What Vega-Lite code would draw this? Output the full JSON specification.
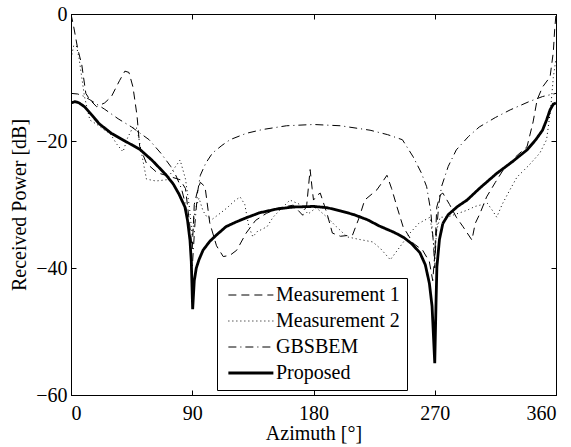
{
  "$schema": "https://vega.github.io/schema/vega-lite/v6.json",
  "width": 485,
  "height": 381,
  "autosize": "none",
  "padding": {"left": 71, "top": 14, "right": 15, "bottom": 52},
  "background": "white",
  "config": {
    "font": "Liberation Serif",
    "view": {"stroke": "black", "strokeWidth": 1},
    "axis": {
      "grid": false,
      "domainColor": "black",
      "tickColor": "black",
      "labelColor": "black",
      "titleColor": "black",
      "labelFont": "Liberation Serif",
      "titleFont": "Liberation Serif",
      "labelFontSize": 20,
      "titleFontSize": 20,
      "titleFontWeight": "normal",
      "tickSize": -5
    }
  },
  "datasets": {
    "curves": [
      {"series": "Measurement 1", "az": 0, "db": 0},
      {"series": "Measurement 1", "az": 2, "db": -2},
      {"series": "Measurement 1", "az": 5, "db": -5.5},
      {"series": "Measurement 1", "az": 8, "db": -8},
      {"series": "Measurement 1", "az": 11, "db": -12.5},
      {"series": "Measurement 1", "az": 14, "db": -13.5},
      {"series": "Measurement 1", "az": 19, "db": -14.6},
      {"series": "Measurement 1", "az": 25, "db": -14},
      {"series": "Measurement 1", "az": 30, "db": -13},
      {"series": "Measurement 1", "az": 36, "db": -10.5},
      {"series": "Measurement 1", "az": 40, "db": -9},
      {"series": "Measurement 1", "az": 43, "db": -9.2},
      {"series": "Measurement 1", "az": 46, "db": -11.5},
      {"series": "Measurement 1", "az": 49, "db": -16},
      {"series": "Measurement 1", "az": 51, "db": -20.9},
      {"series": "Measurement 1", "az": 56, "db": -23.5},
      {"series": "Measurement 1", "az": 64, "db": -25},
      {"series": "Measurement 1", "az": 72, "db": -25.5},
      {"series": "Measurement 1", "az": 81, "db": -26.1},
      {"series": "Measurement 1", "az": 85, "db": -27.5},
      {"series": "Measurement 1", "az": 88, "db": -33},
      {"series": "Measurement 1", "az": 90, "db": -37},
      {"series": "Measurement 1", "az": 91.5, "db": -30},
      {"series": "Measurement 1", "az": 93.5, "db": -28.2},
      {"series": "Measurement 1", "az": 96, "db": -26.5},
      {"series": "Measurement 1", "az": 99.5, "db": -27.2},
      {"series": "Measurement 1", "az": 103, "db": -32.9},
      {"series": "Measurement 1", "az": 108, "db": -36.5},
      {"series": "Measurement 1", "az": 113, "db": -38.2},
      {"series": "Measurement 1", "az": 118, "db": -38},
      {"series": "Measurement 1", "az": 123, "db": -37.2},
      {"series": "Measurement 1", "az": 130, "db": -34.5},
      {"series": "Measurement 1", "az": 137, "db": -32.5},
      {"series": "Measurement 1", "az": 145, "db": -31.4},
      {"series": "Measurement 1", "az": 155, "db": -30.5},
      {"series": "Measurement 1", "az": 165, "db": -30.1},
      {"series": "Measurement 1", "az": 172, "db": -31.7},
      {"series": "Measurement 1", "az": 175, "db": -30},
      {"series": "Measurement 1", "az": 177.5, "db": -24.5},
      {"series": "Measurement 1", "az": 179, "db": -27.5},
      {"series": "Measurement 1", "az": 180, "db": -29.3},
      {"series": "Measurement 1", "az": 183, "db": -28.5},
      {"series": "Measurement 1", "az": 185, "db": -28.2},
      {"series": "Measurement 1", "az": 190, "db": -31.4},
      {"series": "Measurement 1", "az": 194, "db": -34.5},
      {"series": "Measurement 1", "az": 200, "db": -35},
      {"series": "Measurement 1", "az": 209, "db": -34.8},
      {"series": "Measurement 1", "az": 214, "db": -32},
      {"series": "Measurement 1", "az": 218, "db": -29.3},
      {"series": "Measurement 1", "az": 227, "db": -27.7},
      {"series": "Measurement 1", "az": 231, "db": -26.5},
      {"series": "Measurement 1", "az": 234.5, "db": -25.4},
      {"series": "Measurement 1", "az": 238, "db": -27.5},
      {"series": "Measurement 1", "az": 242, "db": -30.4},
      {"series": "Measurement 1", "az": 246.5, "db": -33.5},
      {"series": "Measurement 1", "az": 254, "db": -36.1},
      {"series": "Measurement 1", "az": 261, "db": -37.2},
      {"series": "Measurement 1", "az": 266, "db": -39},
      {"series": "Measurement 1", "az": 268.5, "db": -42},
      {"series": "Measurement 1", "az": 270, "db": -38},
      {"series": "Measurement 1", "az": 271.5, "db": -30.4},
      {"series": "Measurement 1", "az": 274, "db": -28.5},
      {"series": "Measurement 1", "az": 276, "db": -28.2},
      {"series": "Measurement 1", "az": 281, "db": -30},
      {"series": "Measurement 1", "az": 286, "db": -32},
      {"series": "Measurement 1", "az": 291, "db": -33.5},
      {"series": "Measurement 1", "az": 297.6, "db": -35.6},
      {"series": "Measurement 1", "az": 300, "db": -33},
      {"series": "Measurement 1", "az": 303.6, "db": -31.4},
      {"series": "Measurement 1", "az": 308.5, "db": -28.8},
      {"series": "Measurement 1", "az": 315, "db": -26.5},
      {"series": "Measurement 1", "az": 320.7, "db": -24.6},
      {"series": "Measurement 1", "az": 330, "db": -22.5},
      {"series": "Measurement 1", "az": 338.5, "db": -20.9},
      {"series": "Measurement 1", "az": 343, "db": -17},
      {"series": "Measurement 1", "az": 346, "db": -13.5},
      {"series": "Measurement 1", "az": 350, "db": -11.5},
      {"series": "Measurement 1", "az": 355.6, "db": -9.9},
      {"series": "Measurement 1", "az": 358, "db": -6},
      {"series": "Measurement 1", "az": 359, "db": -2.5},
      {"series": "Measurement 1", "az": 360, "db": 0},

      {"series": "Measurement 2", "az": 0, "db": -7},
      {"series": "Measurement 2", "az": 2, "db": -5},
      {"series": "Measurement 2", "az": 4, "db": -5},
      {"series": "Measurement 2", "az": 6, "db": -7},
      {"series": "Measurement 2", "az": 8, "db": -10},
      {"series": "Measurement 2", "az": 10, "db": -13},
      {"series": "Measurement 2", "az": 14, "db": -16.7},
      {"series": "Measurement 2", "az": 20, "db": -17.5},
      {"series": "Measurement 2", "az": 25, "db": -18.3},
      {"series": "Measurement 2", "az": 29, "db": -18.8},
      {"series": "Measurement 2", "az": 34, "db": -20.5},
      {"series": "Measurement 2", "az": 38.6, "db": -21.7},
      {"series": "Measurement 2", "az": 42, "db": -19.5},
      {"series": "Measurement 2", "az": 46, "db": -17.8},
      {"series": "Measurement 2", "az": 49, "db": -18},
      {"series": "Measurement 2", "az": 52, "db": -21.5},
      {"series": "Measurement 2", "az": 56, "db": -26},
      {"series": "Measurement 2", "az": 63, "db": -26.3},
      {"series": "Measurement 2", "az": 71, "db": -26.1},
      {"series": "Measurement 2", "az": 76, "db": -24.5},
      {"series": "Measurement 2", "az": 81, "db": -23},
      {"series": "Measurement 2", "az": 85, "db": -26},
      {"series": "Measurement 2", "az": 88, "db": -30.6},
      {"series": "Measurement 2", "az": 90, "db": -35},
      {"series": "Measurement 2", "az": 92, "db": -31},
      {"series": "Measurement 2", "az": 95, "db": -29},
      {"series": "Measurement 2", "az": 98, "db": -31},
      {"series": "Measurement 2", "az": 101, "db": -32},
      {"series": "Measurement 2", "az": 105, "db": -32.3},
      {"series": "Measurement 2", "az": 110.6, "db": -31.4},
      {"series": "Measurement 2", "az": 116, "db": -30.5},
      {"series": "Measurement 2", "az": 121, "db": -29.5},
      {"series": "Measurement 2", "az": 125.5, "db": -28.8},
      {"series": "Measurement 2", "az": 129, "db": -30},
      {"series": "Measurement 2", "az": 132, "db": -33.5},
      {"series": "Measurement 2", "az": 135, "db": -35.1},
      {"series": "Measurement 2", "az": 138, "db": -34.3},
      {"series": "Measurement 2", "az": 145.5, "db": -33.5},
      {"series": "Measurement 2", "az": 150, "db": -32},
      {"series": "Measurement 2", "az": 155, "db": -30.9},
      {"series": "Measurement 2", "az": 162.5, "db": -29.3},
      {"series": "Measurement 2", "az": 170, "db": -30},
      {"series": "Measurement 2", "az": 176, "db": -31.5},
      {"series": "Measurement 2", "az": 182, "db": -30.5},
      {"series": "Measurement 2", "az": 190, "db": -32},
      {"series": "Measurement 2", "az": 197, "db": -33.5},
      {"series": "Measurement 2", "az": 205, "db": -35.1},
      {"series": "Measurement 2", "az": 214, "db": -35.5},
      {"series": "Measurement 2", "az": 224, "db": -35.9},
      {"series": "Measurement 2", "az": 230, "db": -37},
      {"series": "Measurement 2", "az": 237, "db": -38.7},
      {"series": "Measurement 2", "az": 243, "db": -37},
      {"series": "Measurement 2", "az": 251.6, "db": -34.5},
      {"series": "Measurement 2", "az": 258, "db": -33},
      {"series": "Measurement 2", "az": 266.5, "db": -32},
      {"series": "Measurement 2", "az": 268.5, "db": -35},
      {"series": "Measurement 2", "az": 270, "db": -38},
      {"series": "Measurement 2", "az": 271.5, "db": -34},
      {"series": "Measurement 2", "az": 274, "db": -32},
      {"series": "Measurement 2", "az": 279, "db": -32},
      {"series": "Measurement 2", "az": 286, "db": -31.5},
      {"series": "Measurement 2", "az": 294, "db": -30.9},
      {"series": "Measurement 2", "az": 300, "db": -30.3},
      {"series": "Measurement 2", "az": 309, "db": -29.8},
      {"series": "Measurement 2", "az": 313, "db": -31},
      {"series": "Measurement 2", "az": 316, "db": -32},
      {"series": "Measurement 2", "az": 320, "db": -30},
      {"series": "Measurement 2", "az": 325, "db": -28},
      {"series": "Measurement 2", "az": 331, "db": -25.7},
      {"series": "Measurement 2", "az": 340, "db": -23.8},
      {"series": "Measurement 2", "az": 348, "db": -21.9},
      {"series": "Measurement 2", "az": 353, "db": -19.8},
      {"series": "Measurement 2", "az": 356, "db": -15},
      {"series": "Measurement 2", "az": 358, "db": -10},
      {"series": "Measurement 2", "az": 360, "db": -7},

      {"series": "GBSBEM", "az": 0, "db": -12.5},
      {"series": "GBSBEM", "az": 5, "db": -12.6},
      {"series": "GBSBEM", "az": 10, "db": -13},
      {"series": "GBSBEM", "az": 14, "db": -13.5},
      {"series": "GBSBEM", "az": 25, "db": -15},
      {"series": "GBSBEM", "az": 35, "db": -16.5},
      {"series": "GBSBEM", "az": 45, "db": -17.8},
      {"series": "GBSBEM", "az": 58, "db": -19.8},
      {"series": "GBSBEM", "az": 67, "db": -22},
      {"series": "GBSBEM", "az": 74, "db": -24},
      {"series": "GBSBEM", "az": 78, "db": -25.5},
      {"series": "GBSBEM", "az": 82, "db": -27.5},
      {"series": "GBSBEM", "az": 85, "db": -30},
      {"series": "GBSBEM", "az": 88, "db": -35},
      {"series": "GBSBEM", "az": 90, "db": -40},
      {"series": "GBSBEM", "az": 92, "db": -33},
      {"series": "GBSBEM", "az": 94, "db": -28},
      {"series": "GBSBEM", "az": 96, "db": -25.4},
      {"series": "GBSBEM", "az": 100, "db": -23.5},
      {"series": "GBSBEM", "az": 105, "db": -21.9},
      {"series": "GBSBEM", "az": 112, "db": -20.7},
      {"series": "GBSBEM", "az": 118, "db": -19.8},
      {"series": "GBSBEM", "az": 130, "db": -18.8},
      {"series": "GBSBEM", "az": 142, "db": -18.2},
      {"series": "GBSBEM", "az": 160, "db": -17.6},
      {"series": "GBSBEM", "az": 180, "db": -17.4},
      {"series": "GBSBEM", "az": 200, "db": -17.6},
      {"series": "GBSBEM", "az": 222, "db": -18.3},
      {"series": "GBSBEM", "az": 235, "db": -19},
      {"series": "GBSBEM", "az": 246, "db": -19.8},
      {"series": "GBSBEM", "az": 254, "db": -22.5},
      {"series": "GBSBEM", "az": 260, "db": -25},
      {"series": "GBSBEM", "az": 264, "db": -27.2},
      {"series": "GBSBEM", "az": 267, "db": -31},
      {"series": "GBSBEM", "az": 269, "db": -36},
      {"series": "GBSBEM", "az": 270, "db": -40},
      {"series": "GBSBEM", "az": 271, "db": -35},
      {"series": "GBSBEM", "az": 273, "db": -30},
      {"series": "GBSBEM", "az": 275, "db": -27.2},
      {"series": "GBSBEM", "az": 280, "db": -24},
      {"series": "GBSBEM", "az": 286, "db": -21.4},
      {"series": "GBSBEM", "az": 295, "db": -19.3},
      {"series": "GBSBEM", "az": 303, "db": -17.8},
      {"series": "GBSBEM", "az": 315, "db": -16.3},
      {"series": "GBSBEM", "az": 326, "db": -15.1},
      {"series": "GBSBEM", "az": 340, "db": -13.8},
      {"series": "GBSBEM", "az": 350, "db": -13},
      {"series": "GBSBEM", "az": 356, "db": -12.7},
      {"series": "GBSBEM", "az": 360, "db": -12.5},

      {"series": "Proposed", "az": 0, "db": -14},
      {"series": "Proposed", "az": 3, "db": -13.8},
      {"series": "Proposed", "az": 6, "db": -14},
      {"series": "Proposed", "az": 10, "db": -14.6},
      {"series": "Proposed", "az": 15, "db": -15.8},
      {"series": "Proposed", "az": 21, "db": -17.3},
      {"series": "Proposed", "az": 30, "db": -18.8},
      {"series": "Proposed", "az": 40, "db": -20},
      {"series": "Proposed", "az": 51, "db": -21.3},
      {"series": "Proposed", "az": 60, "db": -23},
      {"series": "Proposed", "az": 70, "db": -25.2},
      {"series": "Proposed", "az": 76, "db": -26.8},
      {"series": "Proposed", "az": 80, "db": -28.3},
      {"series": "Proposed", "az": 84.6, "db": -30.4},
      {"series": "Proposed", "az": 86.5, "db": -32.5},
      {"series": "Proposed", "az": 88.3, "db": -35.6},
      {"series": "Proposed", "az": 89.3, "db": -39},
      {"series": "Proposed", "az": 90.3, "db": -46.5},
      {"series": "Proposed", "az": 91.5, "db": -42},
      {"series": "Proposed", "az": 93, "db": -40},
      {"series": "Proposed", "az": 95, "db": -38.7},
      {"series": "Proposed", "az": 98, "db": -37.2},
      {"series": "Proposed", "az": 103, "db": -35.8},
      {"series": "Proposed", "az": 108, "db": -34.8},
      {"series": "Proposed", "az": 115, "db": -33.5},
      {"series": "Proposed", "az": 122, "db": -32.8},
      {"series": "Proposed", "az": 130, "db": -32.1},
      {"series": "Proposed", "az": 140, "db": -31.3},
      {"series": "Proposed", "az": 153, "db": -30.7},
      {"series": "Proposed", "az": 165, "db": -30.4},
      {"series": "Proposed", "az": 180, "db": -30.3},
      {"series": "Proposed", "az": 190, "db": -30.5},
      {"series": "Proposed", "az": 200, "db": -31},
      {"series": "Proposed", "az": 210, "db": -31.6},
      {"series": "Proposed", "az": 220, "db": -32.4},
      {"series": "Proposed", "az": 229, "db": -33.4},
      {"series": "Proposed", "az": 240, "db": -34.4},
      {"series": "Proposed", "az": 247, "db": -35.2},
      {"series": "Proposed", "az": 253, "db": -36.2},
      {"series": "Proposed", "az": 259, "db": -37.6},
      {"series": "Proposed", "az": 263, "db": -39.5},
      {"series": "Proposed", "az": 266, "db": -42.4},
      {"series": "Proposed", "az": 268, "db": -46},
      {"series": "Proposed", "az": 270, "db": -55},
      {"series": "Proposed", "az": 271, "db": -45},
      {"series": "Proposed", "az": 271.6, "db": -39.8},
      {"series": "Proposed", "az": 273.5, "db": -35.5},
      {"series": "Proposed", "az": 276, "db": -33},
      {"series": "Proposed", "az": 280, "db": -31.6},
      {"series": "Proposed", "az": 287, "db": -30.3},
      {"series": "Proposed", "az": 294, "db": -29.3},
      {"series": "Proposed", "az": 303, "db": -27.5},
      {"series": "Proposed", "az": 316, "db": -25.1},
      {"series": "Proposed", "az": 328, "db": -23.2},
      {"series": "Proposed", "az": 338.5, "db": -21.4},
      {"series": "Proposed", "az": 345, "db": -19.8},
      {"series": "Proposed", "az": 350, "db": -18.3},
      {"series": "Proposed", "az": 353, "db": -16.7},
      {"series": "Proposed", "az": 355.6, "db": -15.1},
      {"series": "Proposed", "az": 358, "db": -14.2},
      {"series": "Proposed", "az": 360, "db": -14}
    ]
  },
  "data": {"name": "curves"},
  "layer": [
    {
      "mark": {"type": "line", "clip": true, "strokeCap": "butt"},
      "encoding": {
        "x": {
          "field": "az", "type": "quantitative",
          "scale": {"domain": [0, 360], "nice": false, "zero": false},
          "axis": {"values": [0, 90, 180, 270, 360], "title": "Azimuth [°]", "labelPadding": 13, "titlePadding": 0}
        },
        "y": {
          "field": "db", "type": "quantitative",
          "scale": {"domain": [-60, 0], "nice": false, "zero": false},
          "axis": {"values": [-60, -40, -20, 0], "title": "Received Power [dB]", "labelPadding": 9, "titlePadding": 6}
        },
        "detail": {"field": "series"},
        "order": {"field": "az", "type": "quantitative"},
        "color": {
          "field": "series", "type": "nominal",
          "scale": {"domain": ["Measurement 1", "Measurement 2", "GBSBEM", "Proposed"], "range": ["black", "black", "black", "black"]},
          "legend": {
            "orient": "none", "legendX": 146, "legendY": 264, "title": null,
            "symbolType": "M-1,0H7", "symbolSize": 126.6,
            "labelFont": "Liberation Serif", "labelFontSize": 20, "labelColor": "black",
            "strokeColor": "black", "fillColor": "white", "padding": 7,
            "rowPadding": 6, "labelOffset": 32,
            "encode": {
              "symbols": {"update": {"strokeWidth": {"signal": "datum.value === 'Proposed' ? 2.8 : 1"}}}
            }
          }
        },
        "strokeDash": {
          "field": "series", "type": "nominal",
          "scale": {"domain": ["Measurement 1", "Measurement 2", "GBSBEM", "Proposed"], "range": [[8, 5], [1, 3], [8, 4, 1, 4], [1, 0]]}
        },
        "strokeWidth": {
          "condition": {"test": "datum.series === 'Proposed'", "value": 2.8},
          "value": 1
        }
      }
    },
    {
      "mark": {"type": "point", "opacity": 0},
      "encoding": {
        "x": {
          "field": "az", "type": "quantitative",
          "scale": {"domain": [0, 360], "nice": false, "zero": false},
          "axis": {"orient": "top", "values": [0, 90, 180, 270, 360], "labels": false, "title": null}
        },
        "y": {
          "field": "db", "type": "quantitative",
          "scale": {"domain": [-60, 0], "nice": false, "zero": false},
          "axis": {"orient": "right", "values": [-60, -40, -20, 0], "labels": false, "title": null}
        }
      }
    }
  ],
  "resolve": {"scale": {"x": "independent", "y": "independent"}, "axis": {"x": "independent", "y": "independent"}}
}
